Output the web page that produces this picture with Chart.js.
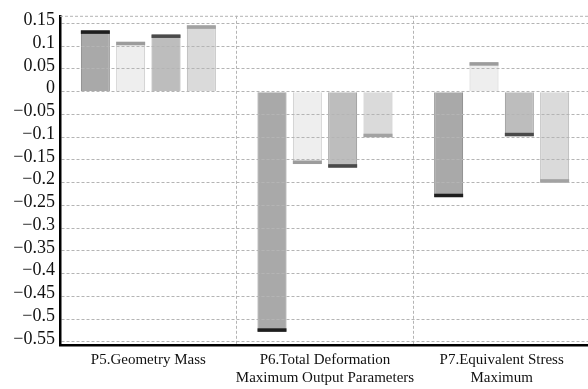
<!DOCTYPE html>
<html>
<head>
<meta charset="utf-8">
<script src="https://cdn.jsdelivr.net/npm/chart.js@4.4.1/dist/chart.umd.min.js"></script>
<style>
  html, body { margin: 0; padding: 0; background: #fff; overflow: hidden; }
  #wrap { width: 590px; height: 389px; }
</style>
</head>
<body>
<div id="wrap"><canvas id="c" width="590" height="389"></canvas></div>
<script>
// Output parameter groups on the x axis
const categories = [
  ['P5.Geometry Mass'],
  ['P6.Total Deformation', 'Maximum Output Parameters'],
  ['P7.Equivalent Stress', 'Maximum']
];

// Sensitivity of each output to the four input parameters
const series1 = [0.135, -0.528, -0.232];
const series2 = [0.110, -0.159, 0.065];
const series3 = [0.126, -0.167, -0.098];
const series4 = [0.146, -0.100, -0.200];

// Y axis tick values
const yTicks = [0.15, 0.1, 0.05, 0, -0.05, -0.1, -0.15, -0.2, -0.25, -0.3,
                -0.35, -0.4, -0.45, -0.5, -0.55];
const yMin = -0.557;
const yMax = 0.167;

const fills = ['#a9a9a9', '#eeeeee', '#bdbdbd', '#dadada'];
const edges = ['#7c7c7c', '#c8c8c8', '#929292', '#b4b4b4'];
const caps  = ['#1e1e1e', '#9c9c9c', '#4a4a4a', '#a2a2a2'];

// Dark band at the value end of every bar
const capPlugin = {
  id: 'barCaps',
  afterDatasetsDraw(chart) {
    const ctx = chart.ctx;
    chart.data.datasets.forEach((ds, i) => {
      const meta = chart.getDatasetMeta(i);
      meta.data.forEach((bar, j) => {
        const v = ds.data[j];
        const w = bar.width;
        const h = 3.5;
        ctx.save();
        ctx.fillStyle = caps[i];
        if (v >= 0) ctx.fillRect(bar.x - w / 2, bar.y, w, h);
        else ctx.fillRect(bar.x - w / 2, bar.y - h, w, h);
        ctx.restore();
      });
    });
  }
};

// Dashed frame line along the top of the plot
const topLine = {
  id: 'topLine',
  afterDraw(chart) {
    const { ctx, chartArea } = chart;
    ctx.save();
    ctx.strokeStyle = '#b4b4b4';
    ctx.lineWidth = 1;
    ctx.setLineDash([3, 2]);
    ctx.beginPath();
    ctx.moveTo(chartArea.left, chartArea.top + 0.5);
    ctx.lineTo(chartArea.right, chartArea.top + 0.5);
    ctx.stroke();
    ctx.restore();
  }
};

const datasets = [series1, series2, series3, series4].map((d, i) => ({
  label: 'S' + (i + 1),
  data: d,
  backgroundColor: fills[i],
  borderColor: edges[i],
  borderWidth: 1,
  categoryPercentage: 0.8,
  barPercentage: 0.82
}));

new Chart(document.getElementById('c'), {
  type: 'bar',
  data: { labels: categories, datasets },
  plugins: [capPlugin, topLine],
  options: {
    responsive: false,
    animation: false,
    layout: { padding: { top: 14, right: 0, left: 0, bottom: 0 } },
    plugins: { legend: { display: false }, tooltip: { enabled: false } },
    scales: {
      x: {
        offset: true,
        grid: {
          offset: true,
          color: '#b4b4b4',
          lineWidth: 1,
          drawTicks: false
        },
        border: { display: true, color: '#000', width: 2.5, dash: [3, 2], z: 2 },
        ticks: {
          color: '#111',
          padding: 6,
          maxRotation: 0,
          autoSkip: false,
          font: { family: 'Liberation Serif', size: 15 },
          lineHeight: 1.2
        },
        afterFit(scale) { scale.height = 44; }
      },
      y: {
        min: yMin,
        max: yMax,
        afterBuildTicks(scale) {
          scale.ticks = yTicks.map(v => ({ value: v }));
        },
        grid: {
          z: 1,
          color: '#b4b4b4',
          lineWidth: 1,
          drawTicks: false
        },
        border: { display: true, color: '#000', width: 2.5, dash: [3, 2], z: 2 },
        ticks: {
          autoSkip: false,
          color: '#111',
          padding: 5,
          labelOffset: -3,
          font: { family: 'Liberation Serif', size: 18 },
          callback: v => (v < 0 ? '\u2212' + String(Math.abs(v)) : String(v))
        },
        afterFit(scale) { scale.width = 60; }
      }
    }
  }
});
</script>
</body>
</html>
